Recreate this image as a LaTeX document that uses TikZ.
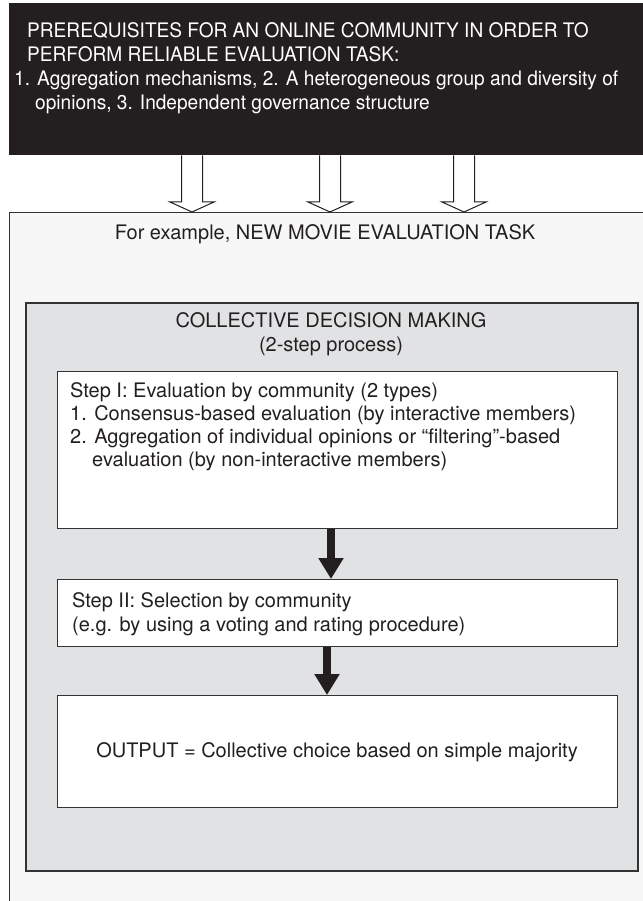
\documentclass[tikz,border=0pt]{standalone}
\usepackage{fontspec}
\setmainfont{TeX Gyre Heros}
\newfontfamily\hdrfont[FakeStretch=0.955]{TeX Gyre Heros}
\usetikzlibrary{arrows.meta,calc}
\definecolor{ink}{HTML}{231F20}
\definecolor{lightbg}{HTML}{F7F7F7}
\definecolor{graybg}{HTML}{E1E2E4}
\definecolor{frame}{HTML}{333333}
\begin{document}
\begin{tikzpicture}[x=1pt,y=-1pt,
  txt/.style={font=\fontsize{20}{24}\selectfont, text=ink, inner sep=0pt, anchor=base west},
  ctxt/.style={txt, anchor=base},
  wtxt/.style={txt, font=\hdrfont\fontsize{20}{24}\selectfont, text=white},
  panel/.style={anchor=north west, inner sep=0pt},
  stepbox/.style={panel, draw=frame, line width=1.2pt, fill=white, minimum width=560pt},
  hollow/.style={draw=ink, line width=1pt, fill=white, line join=miter},
  solidarrow/.style={draw=ink, line width=8pt, -{Triangle[width=24pt,length=21pt]}},
]
\useasboundingbox (0,0) rectangle (642,901);

% containers
\node[panel, fill=ink, minimum width=640pt, minimum height=152pt] (prereq) at (9,3) {};
\node[panel, draw=frame, line width=1.2pt, fill=lightbg, minimum width=640pt, minimum height=700pt] (task) at (9,212) {};
\node[panel, draw=frame, line width=2pt, fill=graybg, minimum width=612pt, minimum height=568pt] (cdm) at (25,302) {};
\node[stepbox, minimum height=157pt] (s1) at (57,371) {};
\node[stepbox, minimum height=67pt] (s2) at (57,579) {};
\node[stepbox, minimum height=112pt] (out) at (57,695) {};

% header text
\node[wtxt] (h1) at (27,38) {PREREQUISITES FOR AN ONLINE COMMUNITY IN ORDER TO};
\node[wtxt] (h2) at (27,62) {PERFORM RELIABLE EVALUATION TASK:};
\node[wtxt] (h3) at (14,86) {1. Aggregation mechanisms, 2. A heterogeneous group and diversity of};
\node[wtxt] (h4) at (35,110) {opinions, 3. Independent governance structure};

% hollow arrows
\foreach \ax in {192,330,464} {
  \draw[hollow] let \p1=(prereq.south -| \ax,0), \p2=(task.north -| \ax,0) in
    (\x1-10.5pt,\y1) -- (\x1-10.5pt,\y2+10pt) -- (\x1-22pt,\y2+10pt) -- (\x1,\y2)
    -- (\x1+22pt,\y2+10pt) -- (\x1+10.5pt,\y2+10pt) -- (\x1+10.5pt,\y1);
}

\node[ctxt] (ex) at (325,240) {For example, NEW MOVIE EVALUATION TASK};
\node[ctxt] (cd1) at (331,327) {COLLECTIVE DECISION MAKING};
\node[ctxt] (cd2) at (331,351) {(2-step process)};

\node[txt] (s1a) at (70,397) {Step I: Evaluation by community (2 types)};
\node[txt] (s1b) at (70,420) {1. Consensus-based evaluation (by interactive members)};
\node[txt] (s1c) at (70,443) {2. Aggregation of individual opinions or “filtering”-based};
\node[txt] (s1d) at (92,466) {evaluation (by non-interactive members)};

\node[txt] (s2a) at (72,607) {Step II: Selection by community};
\node[txt] (s2b) at (72,631) {(e.g. by using a voting and rating procedure)};

\node[ctxt] (o) at (337,757) {OUTPUT = Collective choice based on simple majority};

% solid arrows
\draw[solidarrow] (s1.south -| 331,0) -- (s2.north -| 331,0);
\draw[solidarrow] (s2.south -| 327,0) -- (out.north -| 327,0);
\end{tikzpicture}
\end{document}
